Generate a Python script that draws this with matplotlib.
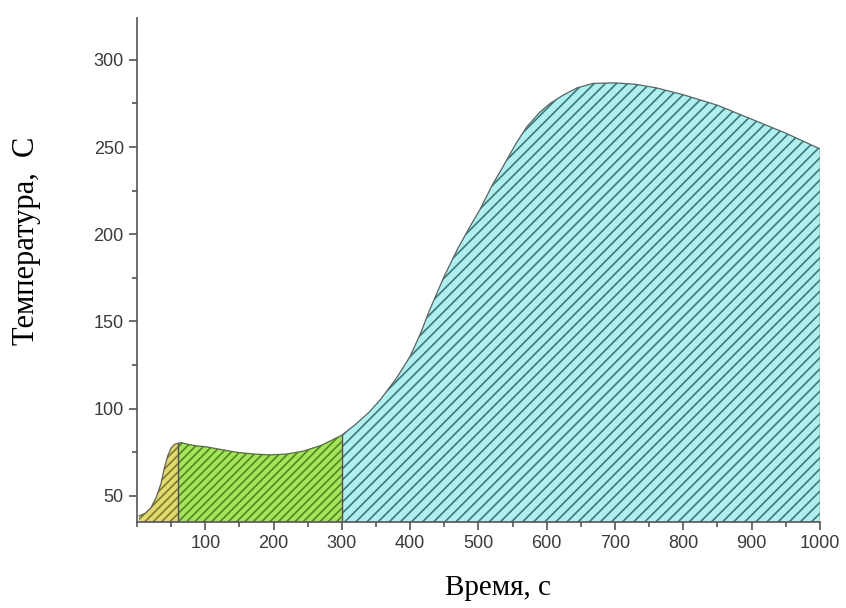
import numpy as np
import matplotlib.pyplot as plt
from matplotlib.ticker import MultipleLocator

# temperature curve
t = [3, 12, 20, 28, 35, 40, 45, 50, 55, 60, 65, 75, 88, 100, 117, 146, 170,
     195, 220, 244, 270, 300, 320, 340, 356, 380, 400, 415, 429, 450, 470,
     490, 502, 520, 536, 555, 571, 590, 605, 625, 645, 668, 700, 730, 760,
     800, 850, 900, 950, 1000]
temp = [38.5, 40, 43, 49, 57, 66, 73, 77.5, 79.5, 80.2, 80.5, 79.5, 78.6,
        78.2, 77, 75, 74, 73.5, 74, 75.7, 79, 84.8, 91, 98, 105, 117.5, 130,
        143, 157, 176, 192, 206, 214, 228, 238.8, 252, 261.7, 270, 275, 280,
        284, 286.5, 286.8, 286, 284, 280, 274, 266, 258, 249]

# stage limits
stages = [(3, 60), (60, 300), (300, 1000)]
faces = ['#e4da6c', '#a6e45a', '#aef0f0']
hatches = ['#7c7a30', '#4c8a22', '#3e7878']
hatch_pat = ['////', '////', '///']

t = np.array(t)
temp = np.array(temp)

plt.rcParams['hatch.linewidth'] = 1.2

fig = plt.figure(figsize=(8.46, 6.08), dpi=100)
ax = fig.add_axes([0.162, 0.1414, 0.807, 0.829])

ybot = 35
for (a, b), fc, hc, hp in zip(stages, faces, hatches, hatch_pat):
    m = (t >= a) & (t <= b)
    ax.fill_between(t[m], ybot, temp[m], facecolor=fc, edgecolor=hc,
                    hatch=hp, linewidth=0)

ax.plot(t, temp, color='#606060', lw=0.9)
for a, b in stages:
    ax.vlines(b, ybot, temp[t == b][0], color='#505050', lw=1.0)

ax.set_xlim(0, 1000)
ax.set_ylim(ybot, 324)
ax.xaxis.set_major_locator(MultipleLocator(100))
ax.xaxis.set_minor_locator(MultipleLocator(50))
ax.yaxis.set_major_locator(MultipleLocator(50))
ax.yaxis.set_minor_locator(MultipleLocator(25))
ax.set_xticks(np.arange(100, 1001, 100))

for s in ['top', 'right']:
    ax.spines[s].set_visible(False)
for s in ['left', 'bottom']:
    ax.spines[s].set_color('#555555')
    ax.spines[s].set_linewidth(1.2)

ax.tick_params(which='major', direction='out', length=6, width=1.2,
               color='#555555', labelsize=13, labelcolor='#3a3a3a')
ax.tick_params(which='minor', direction='out', length=3.5, width=1.2,
               color='#555555')
for lab in ax.get_xticklabels() + ax.get_yticklabels():
    lab.set_fontfamily('Liberation Sans')

ax.set_xlabel('Время, с', fontfamily='Liberation Serif', fontsize=21)
ax.set_ylabel('Температура,  С', fontfamily='Liberation Serif', fontsize=22)
ax.xaxis.set_label_coords(0.529, -0.105)
ax.yaxis.set_label_coords(-0.14, 0.557)

plt.savefig('out.png', dpi=100)
